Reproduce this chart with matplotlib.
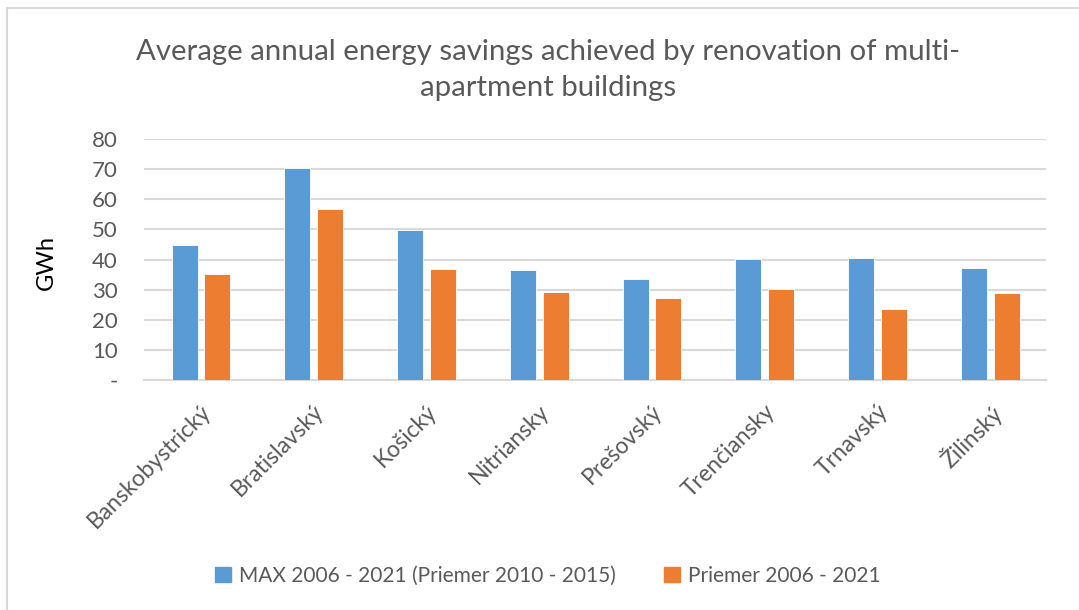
import matplotlib
matplotlib.use("Agg")
import matplotlib.pyplot as plt
import numpy as np
from matplotlib.patches import Rectangle
from matplotlib.lines import Line2D

plt.rcParams['font.family'] = ['Lato', 'DejaVu Sans']

categories = ["Banskobystrický", "Bratislavský", "Košický", "Nitriansky",
              "Prešovský", "Trenčiansky", "Trnavský", "Žilinský"]
max_values = [44.7, 70.4, 49.7, 36.5, 33.4, 40.3, 40.6, 37.3]
avg_values = [35.2, 56.6, 36.7, 29.2, 27.2, 30.1, 23.5, 28.8]
series_names = ["MAX 2006 - 2021 (Priemer 2010 - 2015)", "Priemer 2006 - 2021"]
yticks = [0, 10, 20, 30, 40, 50, 60, 70, 80]
ytick_labels = ["-", "10", "20", "30", "40", "50", "60", "70", "80"]
title = "Average annual energy savings achieved by renovation of multi-\napartment buildings"

blue = "#5B9BD5"
orange = "#ED7D31"
text_gray = "#595959"
grid_gray = "#D9D9D9"

W, H = 1079, 610
fig = plt.figure(figsize=(W / 100, H / 100), dpi=100)
ax = fig.add_axes([144 / W, 1 - 380 / H, (1046 - 144) / W, (380 - 139) / H])

x = np.arange(len(categories))
bw = 0.23
ax.bar(x - 0.14, max_values, width=bw, color=blue, edgecolor="white", linewidth=0.6, zorder=3)
ax.bar(x + 0.15, avg_values, width=bw, color=orange, edgecolor="white", linewidth=0.6, zorder=3)

ax.set_xlim(-0.5, len(categories) - 0.5)
ax.set_ylim(0, 80)
ax.set_yticks(yticks)
ax.set_yticklabels(ytick_labels, fontsize=16, color=text_gray)
ax.yaxis.grid(True, color=grid_gray, linewidth=1.5, zorder=0)
ax.tick_params(axis="y", length=0, pad=19)
ax.tick_params(axis="x", length=0, pad=15)
for s in ["top", "right", "left"]:
    ax.spines[s].set_visible(False)
ax.spines["bottom"].set_color(grid_gray)
ax.spines["bottom"].set_linewidth(1.5)

ax.set_xticks(x)
ax.set_xticklabels(categories, rotation=45, ha="right", rotation_mode="anchor",
                   fontsize=16.5, color=text_gray)

ax.set_ylabel("GWh", fontsize=17, color="black")
ax.yaxis.set_label_coords((57 - 144) / (1046 - 144), (380 - 262) / (380 - 139))

fig.text(548 / W, 1 - 70 / H, title, ha="center", va="center", fontsize=21.2,
         color=text_gray, linespacing=1.5)

# legend
handles = [Rectangle((0, 0), 1, 1, color=blue), Rectangle((0, 0), 1, 1, color=orange)]
leg = fig.legend(handles, series_names, loc="center", bbox_to_anchor=(548 / W, 1 - 576 / H),
                 ncol=2, frameon=False, fontsize=15.0, handlelength=0.75, handleheight=0.75,
                 handletextpad=0.4, columnspacing=2.3)
for t in leg.get_texts():
    t.set_color(text_gray)

# chart border (left and top visible)
fig.add_artist(Line2D([7 / W, 7 / W], [0, 1 - 8 / H], color="#D9D9D9", linewidth=1.5))
fig.add_artist(Line2D([7 / W, 1], [1 - 8 / H, 1 - 8 / H], color="#D9D9D9", linewidth=1.5))

fig.savefig("out.png", dpi=100, facecolor="white")
